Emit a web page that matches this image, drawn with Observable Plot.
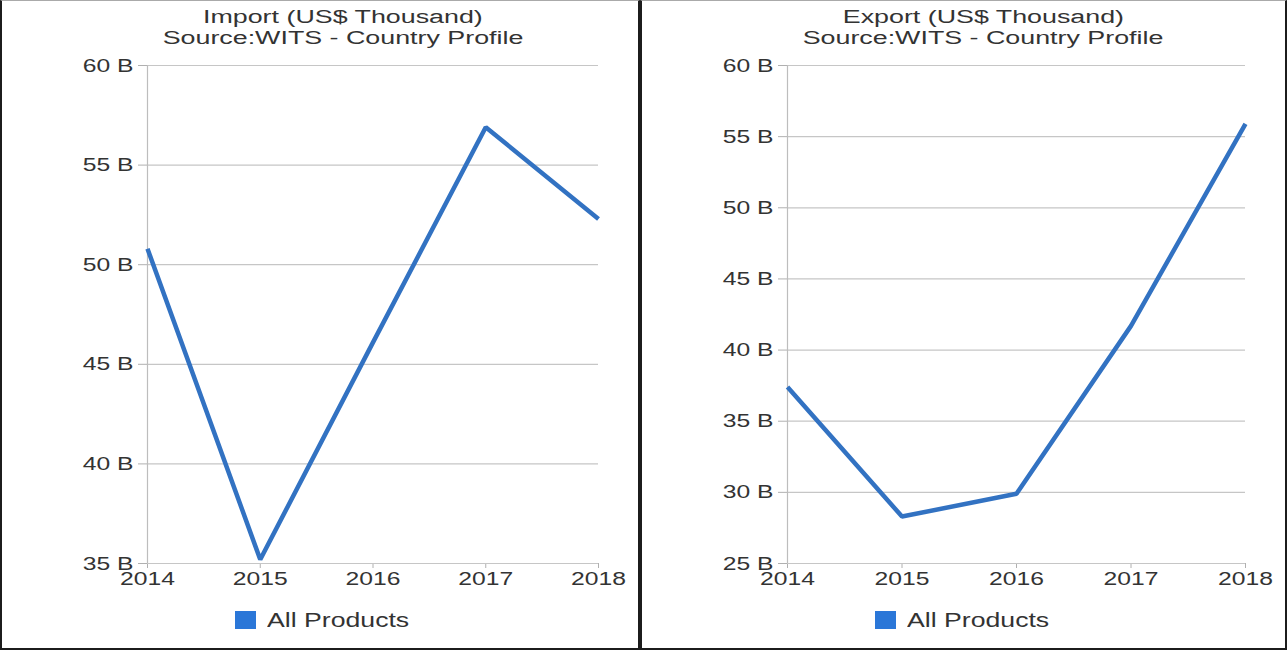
<!DOCTYPE html>
<html>
<head>
<meta charset="utf-8">
<script src="https://cdn.jsdelivr.net/npm/d3@7"></script>
<script src="https://cdn.jsdelivr.net/npm/@observablehq/plot@0.6"></script>
<style>
  html, body { margin: 0; padding: 0; background: #fff; overflow: hidden; }
  #page { position: relative; width: 1287px; height: 650px; font-family: "Liberation Sans", Arial, sans-serif; color: #333; }
  .panel { position: absolute; top: 0; height: 650px; box-sizing: border-box; border: 2px solid #1c1c1c; border-top: 1px solid #aaa; }
  .chart { position: absolute; top: 0; }
  .title { position: absolute; width: 600px; height: 21px; text-align: center; font-size: 18px; line-height: 21px; color: #333; }
  .title span { display: inline-block; transform: scaleX(1.49); white-space: nowrap; }
  .swatch { position: absolute; top: 611px; width: 21px; height: 18px; background: #2b77d8; }
  .legtext { position: absolute; top: 610px; font-size: 20.5px; line-height: 20px; color: #333; transform: scaleX(1.3); transform-origin: left center; white-space: nowrap; }
</style>
</head>
<body>
<div id="page"></div>
<script>
const years = [2014, 2015, 2016, 2017, 2018];
const importValues = [50.8, 35.2, 46.1, 56.9, 52.3];   // US$ billions
const exportValues = [37.4, 28.3, 29.9, 41.7, 55.9];   // US$ billions
const importTicks = [35, 40, 45, 50, 55, 60];
const exportTicks = [25, 30, 35, 40, 45, 50, 55, 60];
const importTitle = ["Import (US$ Thousand)", "Source:WITS - Country Profile"];
const exportTitle = ["Export (US$ Thousand)", "Source:WITS - Country Profile"];
const legendLabel = "All Products";

const S = 1.3; // horizontal text stretch of the reference
const page = document.getElementById("page");

function makeChart(values, ticks, width) {
  const data = years.map((year, i) => ({year, value: values[i]}));
  const svg = Plot.plot({
    width, height: 600,
    marginTop: 65, marginLeft: 147, marginRight: 42, marginBottom: 37,
    style: {fontFamily: "Liberation Sans, Arial, sans-serif", fontSize: "19px", color: "#b0b0b0", background: "transparent", overflow: "visible"},
    x: {domain: [years[0], years[years.length - 1]], ticks: years, tickFormat: d => String(d), tickSize: 5, tickPadding: 3, label: null},
    y: {domain: [ticks[0], ticks[ticks.length - 1]], ticks, tickFormat: d => `${d} B`, tickSize: 9, tickPadding: 5, label: null},
    marks: [
      Plot.ruleY(ticks, {x1: years[0], x2: years[years.length - 1], stroke: "#c6c6c6", strokeWidth: 1.2}),
      Plot.ruleX([years[0]], {stroke: "#bdbdbd", strokeWidth: 1.2}),
      Plot.line(data, {x: "year", y: "value", stroke: "#3272c2", strokeWidth: 4.5, strokeLinejoin: "miter", strokeLinecap: "butt"})
    ]
  });
  svg.querySelectorAll("text").forEach(t => {
    const x = +(t.getAttribute("x") || 0);
    const tr = t.getAttribute("transform") || "";
    t.removeAttribute("x");
    t.setAttribute("transform", `${tr} translate(${x},0) scale(${S},1)`);
    t.setAttribute("fill", "#333");
  });
  return svg;
}

function addPanel(left, width, values, ticks, title) {
  const panel = document.createElement("div");
  panel.className = "panel";
  panel.style.left = left + "px";
  panel.style.width = width + "px";
  page.appendChild(panel);

  const svg = makeChart(values, ticks, width);
  const wrap = document.createElement("div");
  wrap.className = "chart";
  wrap.style.left = left + "px";
  wrap.appendChild(svg);
  page.appendChild(wrap);

  title.forEach((s, i) => {
    const t = document.createElement("div");
    t.className = "title";
    t.style.left = (left + 343 - 300) + "px";
    t.style.top = (7 + i * 21) + "px";
    const span = document.createElement("span");
    span.textContent = s;
    t.appendChild(span);
    page.appendChild(t);
  });

  const sw = document.createElement("div");
  sw.className = "swatch";
  sw.style.left = (left + 235) + "px";
  page.appendChild(sw);

  const lt = document.createElement("div");
  lt.className = "legtext";
  lt.style.left = (left + 267) + "px";
  lt.textContent = legendLabel;
  page.appendChild(lt);
}

addPanel(0, 640, importValues, importTicks, importTitle);
addPanel(640, 647, exportValues, exportTicks, exportTitle);
</script>
</body>
</html>
